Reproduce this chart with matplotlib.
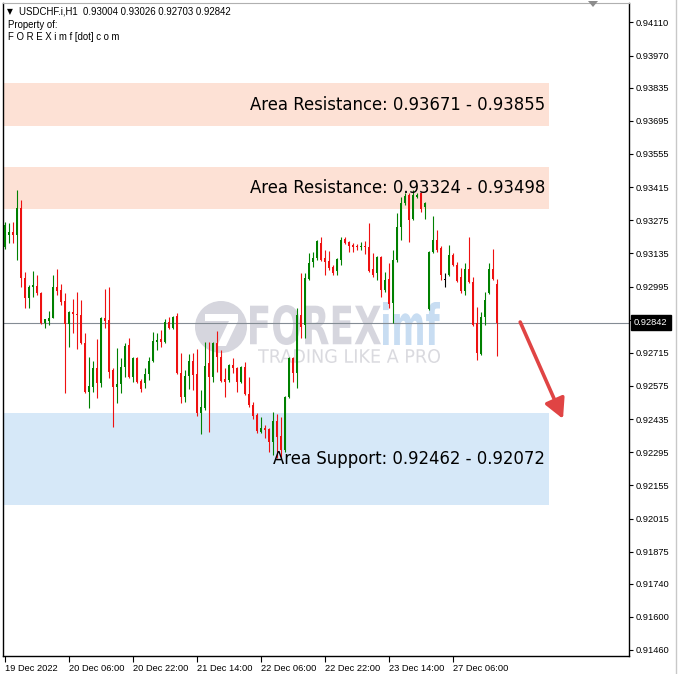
import matplotlib
matplotlib.use("Agg")
import matplotlib.pyplot as plt
from matplotlib.patches import Rectangle, Circle, Polygon, PathPatch
from matplotlib.textpath import TextPath
from matplotlib.font_manager import FontProperties
from matplotlib.transforms import Affine2D
import matplotlib.lines as mlines
import numpy as np

W, H = 679, 674

# ---------------- data ----------------
header_symbol = "USDCHF.i,H1"
header_ohlc = "0.93004 0.93026 0.92703 0.92842"
header_line2 = "Property of:"
header_line3 = "F O R E X i m f [dot] c o m"

opens = [0.93162, 0.93213, 0.93226, 0.93213, 0.93326, 0.93031, 0.92946, 0.92993, 0.92998, 0.92967,
         0.92841, 0.92850, 0.92862, 0.92993, 0.92980, 0.92934, 0.92837, 0.92888, 0.92879, 0.92875,
         0.92756, 0.92550, 0.92571, 0.92651, 0.92587, 0.92862, 0.92854, 0.92643, 0.92571, 0.92583,
         0.92655, 0.92748, 0.92613, 0.92693, 0.92596, 0.92587, 0.92626, 0.92681, 0.92761, 0.92773,
         0.92761, 0.92845, 0.92820, 0.92871, 0.92630, 0.92529, 0.92617, 0.92681, 0.92626, 0.92461,
         0.92482, 0.92672, 0.92613, 0.92756, 0.92697, 0.92604, 0.92600, 0.92664, 0.92651, 0.92592,
         0.92655, 0.92541, 0.92495, 0.92453, 0.92381, 0.92398, 0.92393, 0.92338, 0.92427, 0.92364,
         0.92305, 0.92529, 0.92693, 0.92630, 0.92875, 0.92833, 0.93027, 0.93099, 0.93116, 0.93179,
         0.93116, 0.93103, 0.93078, 0.93061, 0.93107, 0.93196, 0.93183, 0.93170, 0.93166, 0.93162,
         0.93166, 0.93162, 0.93069, 0.93052, 0.93120, 0.92980, 0.93027, 0.92925, 0.93107, 0.93246,
         0.93348, 0.93382, 0.93280, 0.93373, 0.93390, 0.93331, 0.92900, 0.93141, 0.93192, 0.93158,
         0.93023, 0.93044, 0.93128, 0.93086, 0.93036, 0.92976, 0.93069, 0.93014, 0.92841, 0.92710,
         0.92866, 0.92967, 0.93069, 0.93004]
highs = [0.93268, 0.93263, 0.93268, 0.93403, 0.93360, 0.93057, 0.93002, 0.93061, 0.93044, 0.92970,
         0.92858, 0.92892, 0.93044, 0.93069, 0.93006, 0.92967, 0.92892, 0.92942, 0.92972, 0.92938,
         0.92798, 0.92697, 0.92681, 0.92773, 0.92866, 0.92984, 0.92993, 0.92651, 0.92735, 0.92693,
         0.92756, 0.92777, 0.92697, 0.92697, 0.92604, 0.92651, 0.92697, 0.92803, 0.92798, 0.92811,
         0.92858, 0.92866, 0.92871, 0.92883, 0.92714, 0.92643, 0.92710, 0.92714, 0.92731, 0.92558,
         0.92761, 0.92761, 0.92761, 0.92807, 0.92727, 0.92651, 0.92668, 0.92693, 0.92655, 0.92660,
         0.92677, 0.92613, 0.92508, 0.92461, 0.92444, 0.92410, 0.92398, 0.92465, 0.92457, 0.92444,
         0.92533, 0.92697, 0.92697, 0.92904, 0.93052, 0.93052, 0.93137, 0.93141, 0.93192, 0.93204,
         0.93149, 0.93145, 0.93086, 0.93116, 0.93204, 0.93204, 0.93187, 0.93179, 0.93175, 0.93183,
         0.93187, 0.93263, 0.93137, 0.93124, 0.93124, 0.93057, 0.93095, 0.93149, 0.93305, 0.93373,
         0.93390, 0.93390, 0.93403, 0.93390, 0.93394, 0.93352, 0.93145, 0.93293, 0.93234, 0.93166,
         0.93052, 0.93170, 0.93137, 0.93099, 0.93073, 0.93095, 0.93204, 0.93036, 0.92909, 0.92888,
         0.92972, 0.93095, 0.93153, 0.93026]
lows = [0.93155, 0.93179, 0.93179, 0.93107, 0.92993, 0.92904, 0.92904, 0.92950, 0.92959, 0.92838,
        0.92820, 0.92833, 0.92860, 0.92959, 0.92917, 0.92545, 0.92740, 0.92798, 0.92731, 0.92752,
        0.92546, 0.92482, 0.92550, 0.92524, 0.92571, 0.92820, 0.92609, 0.92401, 0.92503, 0.92545,
        0.92613, 0.92609, 0.92592, 0.92588, 0.92550, 0.92567, 0.92600, 0.92677, 0.92727, 0.92740,
        0.92757, 0.92816, 0.92816, 0.92626, 0.92503, 0.92508, 0.92562, 0.92558, 0.92448, 0.92372,
        0.92474, 0.92381, 0.92592, 0.92634, 0.92592, 0.92529, 0.92592, 0.92630, 0.92550, 0.92587,
        0.92537, 0.92487, 0.92436, 0.92376, 0.92377, 0.92355, 0.92296, 0.92284, 0.92271, 0.92271,
        0.92296, 0.92524, 0.92592, 0.92567, 0.92777, 0.92777, 0.93023, 0.93078, 0.93107, 0.93103,
        0.93044, 0.93065, 0.93044, 0.93044, 0.93086, 0.93175, 0.93141, 0.93141, 0.93149, 0.93149,
        0.93132, 0.93057, 0.93036, 0.93023, 0.92950, 0.92972, 0.92904, 0.92841, 0.93099, 0.93192,
        0.93339, 0.93183, 0.93276, 0.93369, 0.93310, 0.93280, 0.92896, 0.93137, 0.93141, 0.93023,
        0.92993, 0.93040, 0.93082, 0.93014, 0.92967, 0.92959, 0.93010, 0.92829, 0.92685, 0.92706,
        0.92833, 0.92963, 0.93023, 0.92703]
closes = [0.93255, 0.93226, 0.93213, 0.93326, 0.93031, 0.92946, 0.92993, 0.93002, 0.92967, 0.92841,
          0.92858, 0.92862, 0.92993, 0.92976, 0.92930, 0.92837, 0.92888, 0.92879, 0.92875, 0.92756,
          0.92550, 0.92575, 0.92651, 0.92587, 0.92862, 0.92850, 0.92634, 0.92571, 0.92583, 0.92655,
          0.92744, 0.92613, 0.92693, 0.92592, 0.92562, 0.92626, 0.92681, 0.92765, 0.92769, 0.92761,
          0.92845, 0.92820, 0.92866, 0.92630, 0.92529, 0.92617, 0.92681, 0.92621, 0.92461, 0.92487,
          0.92660, 0.92613, 0.92756, 0.92697, 0.92596, 0.92592, 0.92664, 0.92651, 0.92592, 0.92655,
          0.92541, 0.92495, 0.92448, 0.92385, 0.92398, 0.92389, 0.92338, 0.92427, 0.92360, 0.92305,
          0.92529, 0.92693, 0.92630, 0.92875, 0.92824, 0.93031, 0.93095, 0.93116, 0.93187, 0.93107,
          0.93099, 0.93073, 0.93052, 0.93112, 0.93192, 0.93179, 0.93166, 0.93162, 0.93162, 0.93166,
          0.93160, 0.93061, 0.93044, 0.93120, 0.92980, 0.93023, 0.92921, 0.93107, 0.93246, 0.93348,
          0.93377, 0.93276, 0.93382, 0.93382, 0.93322, 0.93348, 0.93141, 0.93192, 0.93149, 0.93044,
          0.93023, 0.93128, 0.93086, 0.93019, 0.92976, 0.93069, 0.93014, 0.92833, 0.92714, 0.92866,
          0.92938, 0.93069, 0.93027, 0.92842]

current_price = 0.92842
resistance_1 = (0.93671, 0.93855)
resistance_2 = (0.93324, 0.93498)
support_zone = (0.92072, 0.92462)
label_res_1 = "Area Resistance: 0.93671 - 0.93855"
label_res_2 = "Area Resistance: 0.93324 - 0.93498"
label_sup = "Area Support: 0.92462 - 0.92072"

xtick_pos = [0, 16, 32, 48, 64, 80, 96, 112]
xtick_labels = ["19 Dec 2022", "20 Dec 06:00", "20 Dec 22:00", "21 Dec 14:00",
                "22 Dec 06:00", "22 Dec 22:00", "23 Dec 14:00", "27 Dec 06:00"]
ytick_vals = [0.94110, 0.93970, 0.93835, 0.93695, 0.93555, 0.93415, 0.93275, 0.93135,
              0.92995, 0.92855, 0.92715, 0.92575, 0.92435, 0.92295, 0.92155, 0.92015,
              0.91875, 0.91740, 0.91600, 0.91460]

# ---------------- styles ----------------
UP = "#008000"
DOWN = "#ee1111"
DOJI = "#000000"
RES_COLOR = "#fde1d5"
SUP_COLOR = "#d6e8f8"
ARROW_COLOR = "#e04444"
TICK_FONT = ["Liberation Sans", "DejaVu Sans"]

fig = plt.figure(figsize=(W / 100, H / 100), dpi=100)
fig.patch.set_facecolor("white")
ax = fig.add_axes([3 / W, 18 / H, 626 / W, 653 / H])
ax.set_facecolor("white")


def pix():
    return Affine2D().scale(1 / W, -1 / H).translate(0, 1) + fig.transFigure


o = np.array(opens)
h = np.array(highs)
l = np.array(lows)
c = np.array(closes)
x = np.arange(len(o))
cols = np.where(c > o, UP, np.where(c < o, DOWN, DOJI))

# zones
zone_right = 136
for lo, hi, col in [(resistance_1[0], resistance_1[1], RES_COLOR),
                    (resistance_2[0], resistance_2[1], RES_COLOR),
                    (support_zone[0], support_zone[1], SUP_COLOR)]:
    ax.add_patch(Rectangle((-0.5, lo), zone_right + 0.5, hi - lo, facecolor=col,
                           edgecolor="none", zorder=0.5))

# watermark
wm_gray = "#d6d6de"
wm_blue = "#c8ddf2"
ax.add_patch(Circle((221, 327), 26, transform=pix(), facecolor=wm_gray, edgecolor="none", zorder=0.8))
ax.add_patch(Polygon([(205, 314), (238, 314), (238, 321), (226, 346), (217, 346), (229, 321), (205, 321)],
                     closed=True, transform=pix(), facecolor="white", edgecolor="none", zorder=0.85))


def text_path(text, box, color, fp, z=0.9):
    tp = TextPath((0, 0), text, prop=fp, size=100)
    bb = tp.get_extents()
    x0, y0, x1, y1 = box
    sx = (x1 - x0) / bb.width
    sy = (y1 - y0) / bb.height
    tr = Affine2D().translate(-bb.x0, -bb.y1).scale(sx, -sy).translate(x0, y0) + pix()
    ax.add_patch(PathPatch(tp, transform=tr, facecolor=color, edgecolor="none", zorder=z))


text_path("FOREX", (250, 305, 381, 345), wm_gray, FontProperties(family="DejaVu Sans", weight="bold"))
text_path("imf", (383, 302, 440, 345), wm_blue, FontProperties(family="DejaVu Sans", weight="bold"))
text_path("TRADING LIKE A PRO", (258, 349, 440, 363), "#dadadf", FontProperties(family="DejaVu Sans"))

# current price line
ax.axhline(current_price, color="#848c94", linewidth=0.8, zorder=1)

# candles
ax.vlines(x, l, h, colors=cols, linewidth=0.8, zorder=3)
body_bottom = np.minimum(o, c)
body_h = np.maximum(np.abs(c - o), 0.00002)
ax.bar(x, body_h, bottom=body_bottom, width=0.74, color=cols, linewidth=0, zorder=3)

# zone labels
for (lo, hi), txt in [(resistance_1, label_res_1), (resistance_2, label_res_2),
                      ((support_zone[0], support_zone[1]), label_sup)]:
    ax.text(135, (lo + hi) / 2, txt, ha="right", va="center", fontsize=11.9,
            family="DejaVu Sans", color="black", zorder=5)

# arrow
arrow_start = (128.8, 0.92845)
arrow_end = (139.5, 0.92436)
ax.annotate("", xy=arrow_end, xytext=arrow_start,
            arrowprops=dict(arrowstyle="-|>,head_length=0.85,head_width=0.45",
                            color=ARROW_COLOR, lw=2.6, mutation_scale=14, shrinkA=0, shrinkB=0),
            zorder=6)

# axes setup
ax.set_xlim(-0.5, 156)
ax.set_ylim(0.914346, 0.941923)
ax.yaxis.tick_right()
ax.set_yticks(ytick_vals)
ax.set_yticklabels([f"{v:.5f}" for v in ytick_vals], fontsize=6.7, family=TICK_FONT)
ax.set_xticks(xtick_pos)
ax.set_xticklabels(xtick_labels, fontsize=6.7, family=TICK_FONT, ha="left")
ax.tick_params(axis="y", direction="out", length=3, width=0.8, pad=2, colors="black")
ax.tick_params(axis="x", direction="out", length=4, width=0.8, pad=1.5, colors="black")
for s in ["left", "right", "bottom"]:
    ax.spines[s].set_color("black")
    ax.spines[s].set_linewidth(1.0)
ax.spines["top"].set_color("#b0b0b0")
ax.spines["top"].set_linewidth(0.8)

# current price label on the axis (covers the neighbouring tick label, as in the original)
ax.annotate(f"{current_price:.5f}", xy=(1, current_price), xycoords=("axes fraction", "data"),
            xytext=(5, 0), textcoords="offset pixels", ha="left", va="center",
            fontsize=6.7, family=TICK_FONT, color="white", annotation_clip=False,
            bbox=dict(boxstyle="square,pad=0.35", facecolor="black", edgecolor="black"),
            zorder=10)

# header texts
fig.text(7 / W, 1 - 12 / H, "\u25BC", fontsize=5.5, family=["DejaVu Sans"], va="center", ha="left")
fig.text(19 / W, 1 - 12 / H, header_symbol + "  " + header_ohlc, fontsize=6.9, family=TICK_FONT,
         va="center", ha="left")
fig.text(8 / W, 1 - 25 / H, header_line2, fontsize=6.9, family=TICK_FONT, va="center", ha="left")
fig.text(8 / W, 1 - 37 / H, header_line3, fontsize=6.9, family=TICK_FONT, va="center", ha="left")

# chart shift marker and right strip
fig.patches.append(Polygon([(588, 1), (598, 1), (593, 7)], closed=True, transform=pix(),
                           facecolor="#8c8c8c", edgecolor="none"))
fig.lines.append(mlines.Line2D([676, 676], [0, H], transform=pix(), color="#c8c8c8",
                               linewidth=1.0))

fig.savefig("out.png", dpi=100, facecolor="white")
